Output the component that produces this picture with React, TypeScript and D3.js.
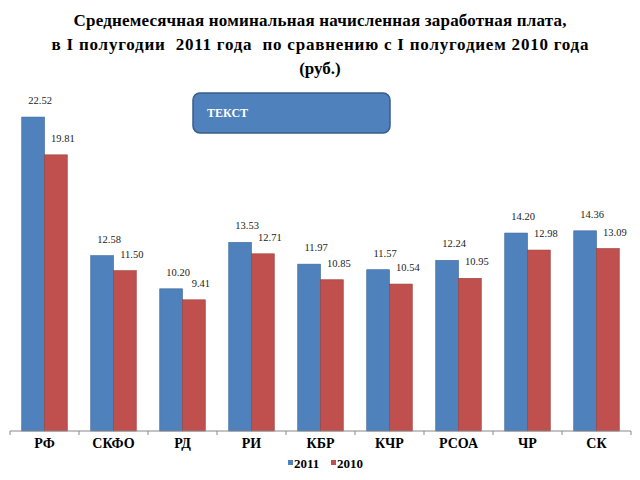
import React from "react";
import * as d3 from "d3";

const categories = ["РФ", "СКФО", "РД", "РИ", "КБР", "КЧР", "РСОА", "ЧР", "СК"];
const values2011 = [22.52, 12.58, 10.2, 13.53, 11.97, 11.57, 12.24, 14.2, 14.36];
const values2010 = [19.81, 11.5, 9.41, 12.71, 10.85, 10.54, 10.95, 12.98, 13.09];
const seriesNames = ["2011", "2010"];
const titleLines = [
  "Среднемесячная номинальная начисленная заработная плата,",
  "в I полугодии  2011 года  по сравнению с I полугодием 2010 года",
  "(руб.)",
];
const titleWidths = [493, 537, 0];
const boxText = "ТЕКСТ";

const BLUE = "#4F81BD";
const RED = "#C0504D";
const FONT = "'Times New Roman', Times, 'Liberation Serif', 'DejaVu Serif', serif";

export default function App() {
  const W = 640;
  const H = 480;
  const x0 = d3.scaleBand<string>().domain(categories).range([10, 631]).padding(0);
  const step = x0.bandwidth();
  const groupW = step * 0.66;
  const x1 = d3
    .scaleBand<string>()
    .domain(seriesNames)
    .range([(step - groupW) / 2, (step + groupW) / 2])
    .padding(0);
  const y = d3.scaleLinear().domain([0, 25]).range([431, 431 - 25 * 13.94]);
  const series = [
    { name: "2011", values: values2011, color: BLUE, stroke: "#3A6697" },
    { name: "2010", values: values2010, color: RED, stroke: "#993C3A" },
  ];
  const ticks = d3.range(categories.length + 1).map((i) => 10 + i * step);

  return (
    <svg
      width={W}
      height={H}
      fontFamily={FONT}
      style={{ position: "absolute", left: 0, top: 0, background: "#fff" }}
    >
      <rect x={0} y={0} width={W} height={H} fill="#fff" />
      {titleLines.map((t, i) => (
        <text
          key={i}
          x={320}
          y={26 + i * 24}
          textAnchor="middle"
          fontSize={17}
          fontWeight="bold"
          fill="#000"
          fontFamily={FONT}
          textLength={titleWidths[i] || undefined}
          lengthAdjust={titleWidths[i] ? "spacing" : undefined}
          style={{ whiteSpace: "pre" }}
        >
          {t}
        </text>
      ))}

      {/* bars */}
      {series.map((s) =>
        categories.map((c, i) => {
          const bx = (x0(c) ?? 0) + (x1(s.name) ?? 0);
          const bw = x1.bandwidth();
          const top = y(s.values[i]);
          return (
            <g key={s.name + c}>
              <rect
                x={bx}
                y={top}
                width={bw}
                height={y(0) - top}
                fill={s.color}
                stroke={s.stroke}
                strokeWidth={0.6}
              />
              <text
                x={bx + bw / 2 + 7}
                y={top - 13}
                textAnchor="middle"
                fontSize={10.5}
                fill="#222"
                fontFamily={FONT}
              >
                {s.values[i].toFixed(2)}
              </text>
            </g>
          );
        })
      )}

      {/* axis */}
      <line x1={10} x2={631} y1={y(0)} y2={y(0)} stroke="#888" strokeWidth={1} />
      {ticks.map((t, i) => (
        <line key={i} x1={t} x2={t} y1={y(0)} y2={y(0) + 4} stroke="#888" strokeWidth={1} />
      ))}
      {categories.map((c) => (
        <text
          key={c}
          x={(x0(c) ?? 0) + step / 2}
          y={448}
          textAnchor="middle"
          fontSize={14}
          fontWeight="bold"
          fill="#000"
          fontFamily={FONT}
        >
          {c}
        </text>
      ))}

      {/* legend */}
      {series.map((s, i) => (
        <g key={s.name} transform={`translate(${288 + i * 43},0)`}>
          <rect x={0} y={460} width={5} height={5} fill={s.color} />
          <text x={6} y={468} fontSize={13} fontWeight="bold" fill="#000" fontFamily={FONT}>
            {s.name}
          </text>
        </g>
      ))}

      {/* text box */}
      <rect
        x={193}
        y={93}
        width={197}
        height={40}
        rx={7}
        ry={7}
        fill={BLUE}
        stroke="#385D8A"
        strokeWidth={1.5}
      />
      <text x={207} y={117} fontSize={12} fontWeight="bold" fill="#fff" fontFamily={FONT}>
        {boxText}
      </text>
    </svg>
  );
}
